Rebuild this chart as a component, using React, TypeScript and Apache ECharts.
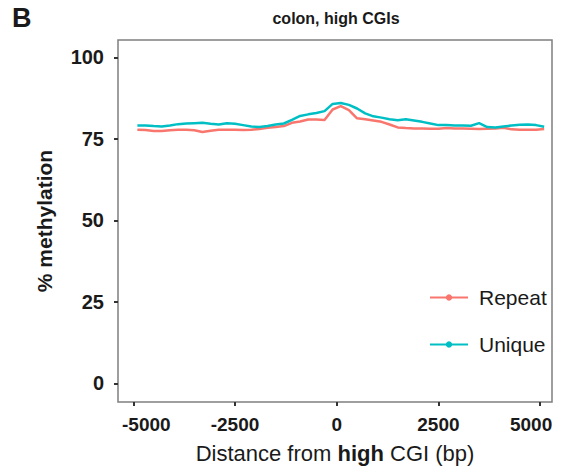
import React, { useEffect, useRef } from "react";
import * as echarts from "echarts";

const positions = [
  -4900, -4700, -4500, -4300, -4100, -3900, -3700, -3500, -3300, -3100,
  -2900, -2700, -2500, -2300, -2100, -1900, -1700, -1500, -1300, -1100,
  -900, -700, -500, -300, -100, 100, 300, 500, 700, 900,
  1100, 1300, 1500, 1700, 1900, 2100, 2300, 2500, 2700, 2900,
  3100, 3300, 3500, 3700, 3900, 4100, 4300, 4500, 4700, 4900, 5100,
];

const repeatValues = [
  77.8, 77.7, 77.4, 77.4, 77.6, 77.8, 77.8, 77.6, 77.1, 77.5,
  77.8, 77.8, 77.8, 77.7, 77.8, 78.0, 78.4, 78.6, 78.9, 79.9,
  80.3, 80.9, 80.9, 80.8, 84.0, 85.0, 83.8, 81.3, 81.0, 80.6,
  80.2, 79.4, 78.5, 78.3, 78.2, 78.2, 78.1, 78.1, 78.3, 78.2,
  78.2, 78.1, 78.0, 78.1, 78.2, 78.4, 77.9, 77.8, 77.8, 77.8, 78.0,
];

const uniqueValues = [
  79.1, 79.1, 78.9, 78.8, 79.1, 79.5, 79.7, 79.8, 79.9, 79.6,
  79.4, 79.8, 79.6, 79.2, 78.8, 78.6, 78.9, 79.4, 79.7, 80.8,
  82.0, 82.5, 82.9, 83.5, 85.7, 86.0, 85.4, 84.3, 82.8, 81.9,
  81.5, 81.0, 80.7, 81.0, 80.6, 80.2, 79.7, 79.2, 79.2, 79.1,
  79.1, 79.0, 79.8, 78.6, 78.5, 78.8, 79.1, 79.3, 79.4, 79.2, 78.7,
];

const xTicks = [-5000, -2500, 0, 2500, 5000];
const yTicks = [0, 25, 50, 75, 100];

const FONT = "'Liberation Sans', Arial, Helvetica, sans-serif";

export default function App() {
  const ref = useRef<HTMLDivElement>(null);

  useEffect(() => {
    if (!ref.current) return;
    const chart = echarts.init(ref.current, undefined, { renderer: "svg" });
    const repeatData = positions.map((x, i) => [x, repeatValues[i]]);
    const uniqueData = positions.map((x, i) => [x, uniqueValues[i]]);

    const tickLabelStyle = {
      fontFamily: FONT,
      fontWeight: "bold",
      fontSize: 19,
      color: "#1a1a1a",
    };

    chart.setOption({
      animation: false,
      backgroundColor: "#ffffff",
      textStyle: { fontFamily: FONT },
      grid: {
        left: 118,
        top: 40,
        width: 434,
        height: 362,
        show: true,
        borderColor: "#7f7f7f",
        borderWidth: 1.5,
        backgroundColor: "#ffffff",
        containLabel: false,
      },
      graphic: [
        {
          type: "text",
          left: 12,
          top: 4,
          style: {
            text: "B",
            fontFamily: FONT,
            fontWeight: "bold",
            fontSize: 27,
            fill: "#1a1a1a",
          },
        },
        {
          type: "text",
          x: 336,
          y: 18,
          style: {
            text: "colon, high CGIs",
            fontFamily: FONT,
            fontWeight: "bold",
            fontSize: 16,
            fill: "#1a1a1a",
            align: "center",
            verticalAlign: "middle",
          },
        },
      ],
      legend: {
        orient: "vertical",
        left: 424,
        top: 282,
        itemWidth: 38,
        itemHeight: 8,
        itemGap: 26,
        selectedMode: false,
        textStyle: { fontFamily: FONT, fontSize: 21, color: "#1a1a1a", padding: [0, 0, 0, 6] },
        data: ["Repeat", "Unique"],
      },
      xAxis: {
        type: "value",
        min: -5376,
        max: 5292,
        splitLine: { show: false },
        axisLine: { show: false, onZero: false },
        axisTick: {
          show: true,
          customValues: xTicks,
          length: 4,
          lineStyle: { color: "#333333", width: 2 },
        },
        axisLabel: {
          customValues: xTicks,
          margin: 13,
          ...tickLabelStyle,
          formatter: (v: number) => {
            if (v === -5000) return "{l|" + v + "}";
            if (v === 5000) return "{r|" + v + "}";
            return "{c|" + v + "}";
          },
          rich: {
            l: { ...tickLabelStyle, padding: [0, 0, 0, 26] },
            r: { ...tickLabelStyle, padding: [0, 18, 0, 0] },
            c: { ...tickLabelStyle },
          },
        },
        name: "{n|Distance from }{b|high}{n| CGI (bp)}",
        nameLocation: "middle",
        nameGap: 40,
        nameTextStyle: {
          rich: {
            n: { fontFamily: FONT, fontSize: 22, color: "#1a1a1a" },
            b: { fontFamily: FONT, fontSize: 22, fontWeight: "bold", color: "#1a1a1a" },
          },
        },
      },
      yAxis: {
        type: "value",
        min: -5.7,
        max: 105.3,
        splitLine: { show: false },
        axisLine: { show: false, onZero: false },
        axisTick: {
          show: true,
          customValues: yTicks,
          length: 4,
          lineStyle: { color: "#333333", width: 2 },
        },
        axisLabel: {
          customValues: yTicks,
          margin: 14,
          fontFamily: FONT,
          fontWeight: "bold",
          fontSize: 20,
          color: "#1a1a1a",
          formatter: (v: number) => String(v),
        },
        name: "% methylation",
        nameLocation: "middle",
        nameGap: 63,
        nameTextStyle: {
          fontFamily: FONT,
          fontSize: 21,
          fontWeight: "bold",
          color: "#1a1a1a",
        },
      },
      series: [
        {
          name: "Repeat",
          type: "line",
          data: repeatData,
          symbol: "circle",
          symbolSize: 6,
          showSymbol: false,
          color: "#F8766D",
          lineStyle: { color: "#F8766D", width: 2.5 },
          z: 2,
        },
        {
          name: "Unique",
          type: "line",
          data: uniqueData,
          symbol: "circle",
          symbolSize: 6,
          showSymbol: false,
          color: "#00BFC4",
          lineStyle: { color: "#00BFC4", width: 2.5 },
          z: 3,
        },
      ],
    });

    return () => {
      chart.dispose();
    };
  }, []);

  return (
    <div
      ref={ref}
      style={{ position: "fixed", left: 0, top: 0, width: 567, height: 473 }}
    />
  );
}
